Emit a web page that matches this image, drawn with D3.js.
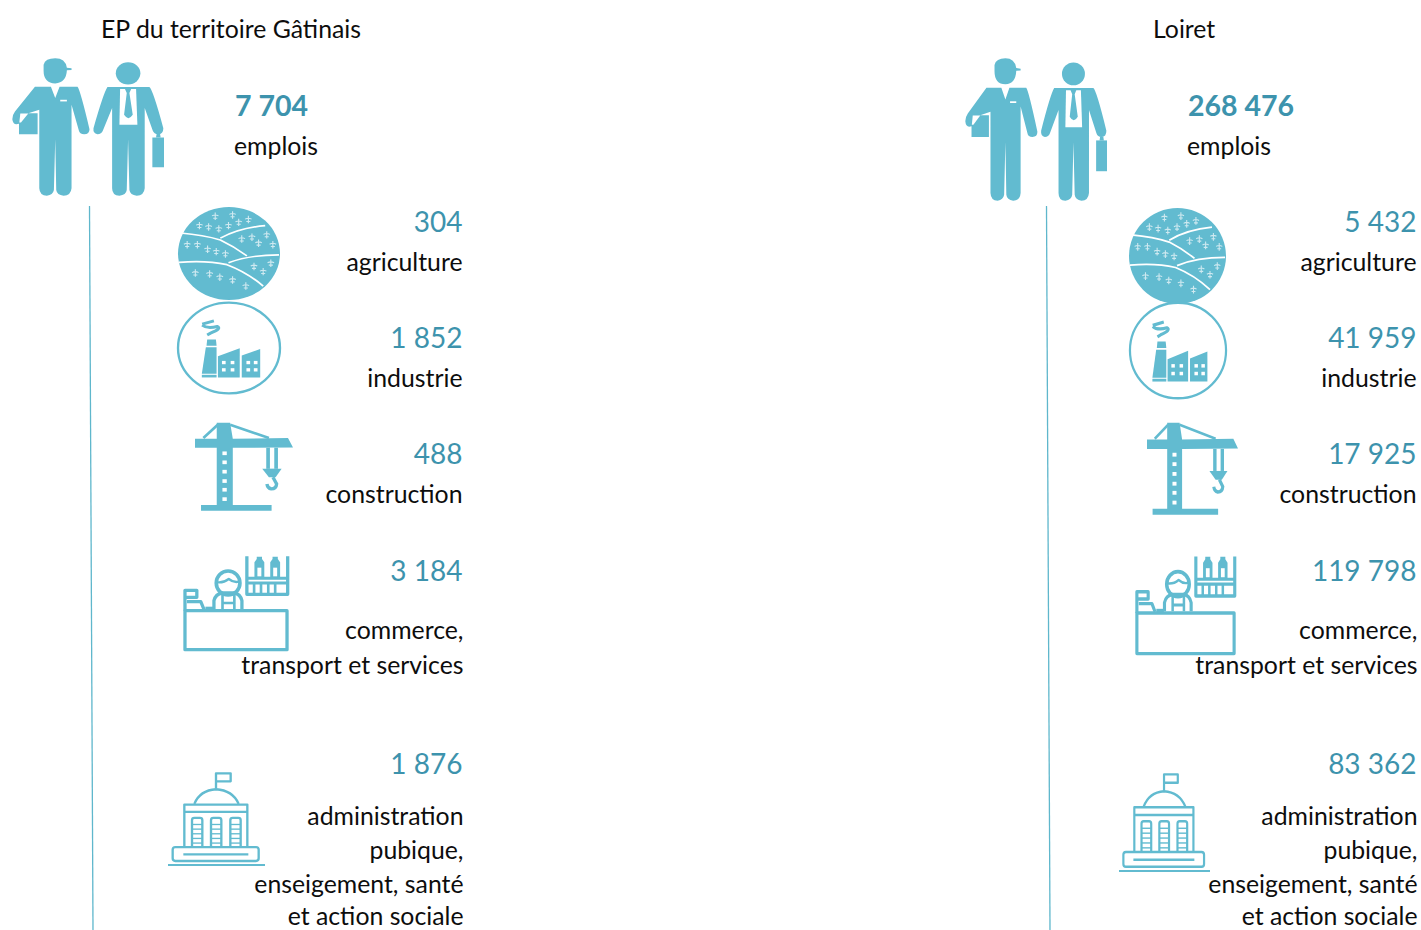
<!DOCTYPE html>
<html lang="fr"><head><meta charset="utf-8">
<script src="https://cdn.jsdelivr.net/npm/d3@7/dist/d3.min.js"></script>
<style>html,body{margin:0;padding:0;background:#fff}svg{display:block}text{font-family:Lato,"Open Sans",sans-serif}</style>
</head><body><svg id="c" width="1421" height="930"></svg>
<script>
// ---- data ----
const panelTitles = ["EP du territoire Gâtinais", "Loiret"];
const totalLabel = "emplois";
const totals = [7704, 268476];
const sectorKeys = ["agriculture", "industrie", "construction", "commerce", "administration"];
const sectorLabels = [
  ["agriculture"],
  ["industrie"],
  ["construction"],
  ["commerce,", "transport et services"],
  ["administration", "pubique,", "enseigement, santé", "et action sociale"]
];
const gatinaisValues = [304, 1852, 488, 3184, 1876];
const loiretValues = [5432, 41959, 17925, 119798, 83362];

// ---- layout & style ----
const TEAL = "#62bbd0", NUM = "#3d93ad", INK = "#0d0d0d";
const fr = d3.formatLocale({decimal: ",", thousands: " ", grouping: [3], currency: ["", " €"]});
const fmt = fr.format(",d");
const svg = d3.select("#c");

const LABEL = 24.8, VALUE = 28, TOTAL = 28.5;
const valueY = [232, 348, 464, 581, 774];
const labelY = [[270.5], [386.5], [502.5], [638.5, 673.5], [824.5, 858.5, 893, 924.5]];
const panels = [
  {title: panelTitles[0], titleX: 101, total: totals[0], totalX: 235, values: gatinaisValues, right: 462.5,
   line: [[89.5, 206], [93, 930]],
   boxes: {men: [12, 58, 164, 196], agriculture: [178, 207, 280, 300], industrie: [177, 302, 281, 394],
           construction: [195, 422, 293, 511], commerce: [183, 555, 289, 651], administration: [168, 772, 265, 866]}},
  {title: panelTitles[1], titleX: 1153, total: totals[1], totalX: 1188, values: loiretValues, right: 1416.5,
   line: [[1046.5, 206], [1050, 930]],
   boxes: {men: [965, 58, 1107, 201], agriculture: [1129, 208, 1226, 304], industrie: [1129, 302, 1227, 399],
           construction: [1147, 422, 1238, 515], commerce: [1135, 555, 1236, 655], administration: [1119, 773, 1210, 872]}}
];

// ---- icons: drawn in their own source coordinate frame ----
function men(g) {
  const f = (d, c = TEAL) => g.append("path").attr("d", d).attr("fill", c);
  f("M130 195Q135 176 165 176Q195 176 200 204L214 206L214 211L200 212Q198 250 165 251Q130 250 130 213Z");
  f("M104 261L152 261L165 295L178 261L232 261Q240 270 268 388Q268 403 252 403Q238 403 236 392L214 315L214 565Q212 587 190 587Q170 585 168 570L165 418L161 570Q158 585 140 587Q118 587 117 565L117 330L84 340L112 340L112 403L56 403L56 372Q38 378 36 358Q36 345 44 335Z");
  f("M180 300L200 300L200 305L180 305Z", "#fff");
  f("M60 341L84 341L62 368L57 368Z", "#fff");
  g.append("ellipse").attr("cx", 384).attr("cy", 221).attr("rx", 37).attr("ry", 33).attr("fill", TEAL);
  f("M322 262L448 262Q458 268 490 385Q490 403 474 403Q462 403 458 392L434 325L434 565Q432 587 410 587Q390 585 388 570L384 418L380 570Q378 585 358 587Q336 587 336 565L336 325L308 393Q304 403 292 403Q278 400 280 385Q310 280 322 262Z");
  f("M360 268L408 268L412 375L358 375Z", "#fff");
  f("M372 262L396 262L388 280L398 345Q385 365 372 345L380 280Z");
  f("M457 413L492 413L492 502L457 502Z");
  f("M470 402L480 402L482 413L468 413Z");
}
function agriculture(g) {
  const R = 8;
  g.append("ellipse").attr("cx", 100).attr("cy", 100).attr("rx", 100).attr("ry", 100).attr("fill", TEAL);
  const line = (d, w = 3.6) => g.append("path").attr("d", d).attr("fill", "none").attr("stroke", "#fff").attr("stroke-width", w);
  line("M5 56Q50 60 83 71Q110 85 135 105");
  line("M83 67Q120 45 171 40");
  line("M2 119Q55 114 96 124Q135 140 167 170");
  line("M99 120Q140 103 198 103");
  const sprouts = [[73,20],[107,17],[138,27],[119,33],[99,40],[80,47],[60,43],[42,40],[18,81],[38,81],[58,91],[75,96],[93,101],[125,69],[145,65],[174,60],[158,78],[186,81],[34,142],[62,144],[82,151],[107,157],[133,170],[149,128],[167,139],[182,121]];
  g.selectAll("path.s").data(sprouts).join("path").attr("class", "s")
    .attr("d", d => `M${d[0]} ${d[1]-R}V${d[1]+R}M${d[0]-R*.8} ${d[1]-1}Q${d[0]} ${d[1]-5} ${d[0]+R*.8} ${d[1]-1}M${d[0]-R*.5} ${d[1]+4}H${d[0]+R*.5}`)
    .attr("stroke", "#cfe9f0").attr("stroke-width", 2.2).attr("fill", "none");
}
function industrie(g) {
  const f = (d, c = TEAL) => g.append("path").attr("d", d).attr("fill", c);
  g.append("ellipse").attr("cx", 205).attr("cy", 157).attr("rx", 152).attr("ry", 137)
    .attr("fill", "none").attr("stroke", TEAL).attr("stroke-width", 7);
  f("M140 131L166 131L168 150L138 150Z");
  f("M136 155L168 155L168 235L124 235Z");
  f("M124 238L168 238L168 246L124 246Z");
  f("M172 182L237 158L237 246L172 246Z");
  f("M243 180L298 160L298 246L243 246Z");
  [[184,196],[210,196],[184,218],[210,218],[257,196],[279,196],[257,218],[279,218]].forEach(d =>
    g.append("rect").attr("x", d[0]).attr("y", d[1]).attr("width", 11).attr("height", 10).attr("fill", "#fff"));
  g.append("path").attr("d", "M125 85L160 75M125 88Q140 100 170 92Q185 98 150 112L140 118")
    .attr("fill", "none").attr("stroke", TEAL).attr("stroke-width", 9);
}
function construction(g) {
  const f = (d, c = TEAL) => g.append("path").attr("d", d).attr("fill", c);
  f("M172 382L212 382L220 430L385 428L400 456L220 457L220 628L336 628L336 645L125 645L125 628L172 628L172 457L107 457L107 430L172 430Z");
  g.append("path").attr("d", "M175 388L132 428M212 388L328 428").attr("stroke", TEAL).attr("stroke-width", 8).attr("fill", "none");
  [468, 495, 523, 551, 577, 605].forEach(y => g.append("rect").attr("x", 189).attr("y", y).attr("width", 13).attr("height", 11).attr("fill", "#fff"));
  f("M320 457L355 457L355 520L320 520Z");
  f("M331 457L344 457L344 520L331 520Z", "#fff");
  f("M308 520L366 520L348 545L328 545Z");
  g.append("path").attr("d", "M340 545L351 565Q350 580 335 580Q324 578 322 565").attr("fill", "none").attr("stroke", TEAL).attr("stroke-width", 10);
}
function commerce(g) {
  const s = (d, w = 10) => g.append("path").attr("d", d).attr("fill", "none").attr("stroke", TEAL).attr("stroke-width", w).attr("stroke-linejoin", "round");
  const f = (d, c = TEAL) => g.append("path").attr("d", d).attr("fill", c);
  s("M72 195H382V312H72Z");
  s("M72 195V134H108V155H74");
  s("M78 168H120L130 192");
  s("M134 188H158");
  g.append("ellipse").attr("cx", 203).attr("cy", 112).attr("rx", 36).attr("ry", 36).attr("fill", "none").attr("stroke", TEAL).attr("stroke-width", 11);
  s("M170 110Q190 112 205 100Q220 112 236 108", 7);
  s("M160 190V165Q165 145 185 142H222Q240 145 245 165V190");
  s("M186 146V190M222 146V190M186 172H222", 8);
  s("M260 32V146H384V32");
  s("M260 98H384M260 112H384", 9);
  s("M282 112V144M303 112V144M325 112V144M346 112V144", 8);
  f("M283 50L290 40V33H306V40L313 50V94H283Z");
  f("M292 66H304V92H292Z", "#fff");
  f("M331 50L338 40V33H354V40L361 50V94H331Z");
  f("M340 66H352V92H340Z", "#fff");
}
function administration(g) {
  const s = (d, w = 7) => g.append("path").attr("d", d).attr("fill", "none").attr("stroke", TEAL).attr("stroke-width", w).attr("stroke-linejoin", "round");
  s("M168 730V684H212V708H168");
  s("M103 776Q120 735 168 732Q218 735 236 776");
  s("M73 904V778H262V904");
  s("M73 800H262");
  [96, 153, 211].forEach(x => {
    s(`M${x} 904V825Q${x} 818 ${x+7} 818H${x+24} Q${x+31} 818 ${x+31} 825V904`);
    [838, 852, 866, 880, 894].forEach(y => s(`M${x} ${y}H${x+31}`, 4));
  });
  s("M46 906H288Q296 906 296 914V940Q296 948 288 948H46Q38 948 38 940V914Q38 906 46 906Z");
  s("M70 928H265");
  s("M24 960H315", 6);
}
const icons = {
  men: [men, [35, 175, 492, 588]],
  agriculture: [agriculture, [0, 0, 200, 200]],
  industrie: [industrie, [50, 18, 360, 296]],
  construction: [construction, [107, 380, 400, 646]],
  commerce: [commerce, [66, 28, 388, 316]],
  administration: [administration, [24, 680, 315, 963]]
};
function place(key, box) {
  const [draw, src] = icons[key];
  const x = d3.scaleLinear([src[0], src[2]], [box[0], box[2]]);
  const y = d3.scaleLinear([src[1], src[3]], [box[1], box[3]]);
  const g = svg.append("g").attr("class", "icon " + key)
    .attr("transform", `translate(${x(0)},${y(0)}) scale(${x(1) - x(0)},${y(1) - y(0)})`);
  draw(g);
}

// ---- draw ----
panels.forEach(p => {
  svg.append("text").attr("x", p.titleX).attr("y", 37.5).attr("font-size", LABEL).attr("fill", INK).text(p.title);
  place("men", p.boxes.men);
  svg.append("text").attr("x", p.totalX).attr("y", 116).attr("font-size", TOTAL).attr("font-weight", 700).attr("fill", NUM).text(fmt(p.total));
  svg.append("text").attr("x", p.totalX - 1).attr("y", 154.5).attr("font-size", LABEL).attr("fill", INK).text(totalLabel);
  svg.append("path").attr("d", d3.line()(p.line)).attr("stroke", "#5fb7cc").attr("stroke-width", 1.3).attr("fill", "none");
  sectorKeys.forEach((k, i) => {
    place(k, p.boxes[k]);
    svg.append("text").attr("x", p.right).attr("y", valueY[i]).attr("text-anchor", "end").attr("font-size", VALUE).attr("fill", NUM).text(fmt(p.values[i]));
    sectorLabels[i].forEach((t, j) => {
      svg.append("text").attr("x", p.right + (i > 2 ? 1 : 0)).attr("y", labelY[i][j]).attr("text-anchor", "end").attr("font-size", LABEL).attr("fill", INK).text(t);
    });
  });
});
</script></body></html>
